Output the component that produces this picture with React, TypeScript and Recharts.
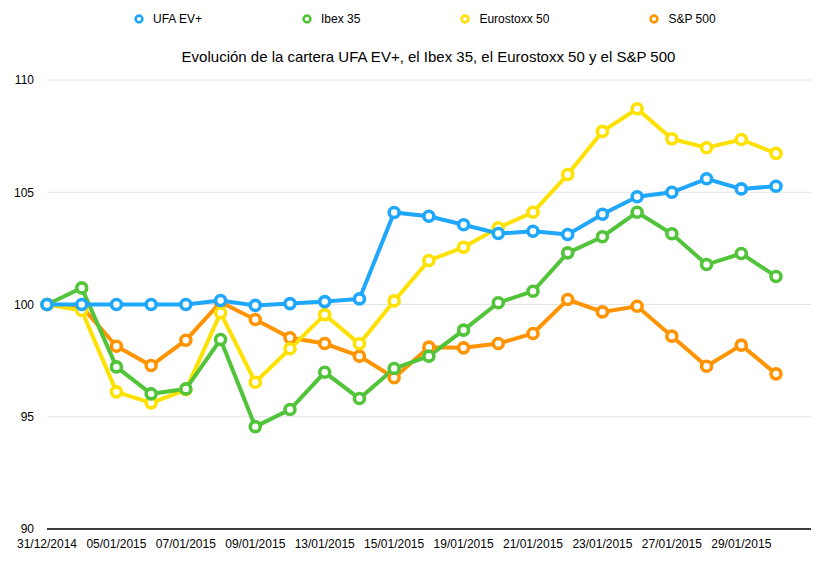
import React from "react";
import { LineChart, Line, XAxis, YAxis, CartesianGrid } from "recharts";

const dates = [
  "31/12/2014", "02/01/2015", "05/01/2015", "06/01/2015", "07/01/2015", "08/01/2015",
  "09/01/2015", "12/01/2015", "13/01/2015", "14/01/2015", "15/01/2015", "16/01/2015",
  "19/01/2015", "20/01/2015", "21/01/2015", "22/01/2015", "23/01/2015", "26/01/2015",
  "27/01/2015", "28/01/2015", "29/01/2015", "30/01/2015",
];

const ufa = [100, 100, 100, 100, 100, 100.18, 99.96, 100.04, 100.13, 100.25, 104.1, 103.93,
  103.55, 103.16, 103.26, 103.12, 104.02, 104.8, 105.0, 105.6, 105.15, 105.27];
const ibex = [100, 100.74, 97.22, 96.02, 96.24, 98.44, 94.56, 95.32, 96.98, 95.81, 97.15, 97.7,
  98.86, 100.08, 100.59, 102.3, 103.02, 104.11, 103.15, 101.78, 102.27, 101.25];
const eurostoxx = [100, 99.73, 96.11, 95.62, 96.2, 99.63, 96.54, 98.03, 99.55, 98.25, 100.16, 101.96,
  102.55, 103.42, 104.11, 105.79, 107.71, 108.72, 107.38, 106.98, 107.35, 106.73];
const sp500 = [100, 99.9, 98.14, 97.28, 98.41, 100.1, 99.33, 98.52, 98.26, 97.7, 96.74, 98.1,
  98.07, 98.26, 98.71, 100.22, 99.67, 99.92, 98.59, 97.25, 98.19, 96.91];

const yTicks = [90, 95, 100, 105, 110];

const seriesNames = ["UFA EV+", "Ibex 35", "Eurostoxx 50", "S&P 500"];
const seriesKeys = ["ufa", "ibex", "eurostoxx", "sp500"];
const seriesColors = ["#1fa7fb", "#52c43a", "#ffe100", "#ff9400"];

const title = "Evolución de la cartera UFA EV+, el Ibex 35, el Eurostoxx 50 y el S&P 500";

const data = dates.map((d, i) => ({
  date: d,
  ufa: ufa[i],
  ibex: ibex[i],
  eurostoxx: eurostoxx[i],
  sp500: sp500[i],
}));

const FONT = '"Liberation Sans", Arial, Helvetica, sans-serif';

export default function App() {
  const drawOrder = [3, 2, 1, 0];
  return (
    <div style={{ position: "relative", width: 815, height: 560, fontFamily: FONT }}>
      <div
        style={{
          position: "absolute",
          left: 126,
          top: 3,
          display: "flex",
          alignItems: "center",
          gap: 100,
          fontSize: 12,
          color: "#000",
          whiteSpace: "nowrap",
          lineHeight: "16px",
        }}
      >
        {seriesNames.map((n, i) => (
          <div key={n} style={{ display: "flex", alignItems: "center" }}>
            <svg width={10} height={10} style={{ marginRight: 9 }}>
              <circle cx={5} cy={5} r={3.4} fill="#fff" stroke={seriesColors[i]} strokeWidth={2.6} />
            </svg>
            <span>{n}</span>
          </div>
        ))}
      </div>
      <div
        style={{
          position: "absolute",
          left: 0,
          width: 841,
          top: 40,
          textAlign: "center",
          fontSize: 15,
          color: "#000",
          whiteSpace: "nowrap",
          lineHeight: "18px",
        }}
      >
        {title}
      </div>
      <div style={{ position: "absolute", left: 0, top: 0 }}>
        <LineChart
          width={815}
          height={560}
          data={data}
          margin={{ top: 72, right: 12, bottom: 0, left: 0 }}
        >
          <CartesianGrid vertical={false} stroke="#e4e4e4" strokeWidth={1} />
          <XAxis
            dataKey="date"
            interval={1}
            padding={{ left: 0, right: 35 }}
            height={39}
            tickLine={false}
            axisLine={{ stroke: "#000", strokeWidth: 1.5 }}
            tickMargin={4}
            tick={{ fill: "#000", fontSize: 12, fontFamily: FONT }}
          />
          <YAxis
            domain={[90, 110]}
            ticks={yTicks}
            width={39}
            tickLine={false}
            axisLine={false}
            tickMargin={7}
            tick={{ fill: "#000", fontSize: 12, fontFamily: FONT }}
          />
          {drawOrder.map((i) => (
            <Line
              key={seriesKeys[i]}
              type="linear"
              dataKey={seriesKeys[i]}
              name={seriesNames[i]}
              stroke={seriesColors[i]}
              strokeWidth={4}
              dot={{ r: 5, fill: "#fff", stroke: seriesColors[i], strokeWidth: 3.6 }}
              activeDot={false}
              isAnimationActive={false}
            />
          ))}
        </LineChart>
      </div>
    </div>
  );
}
